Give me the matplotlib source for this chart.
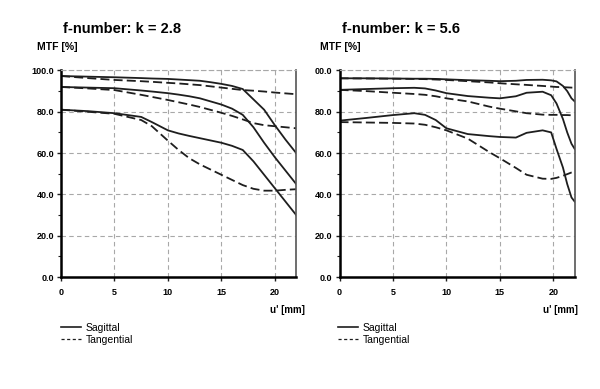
import matplotlib
matplotlib.use('Agg')
import matplotlib.pyplot as plt
from matplotlib.lines import Line2D
from matplotlib.ticker import MultipleLocator

plt.rcParams['font.family'] = ['Liberation Sans', 'DejaVu Sans']

# f-number k = 2.8
u_28 = [0, 2.5, 5, 7.5, 8.5, 10, 11, 12, 13, 14, 15, 16, 17, 18, 19, 20, 21, 22]
sag1_28 = [97.3, 97, 96.7, 96.3, 96.1, 95.9, 95.6, 95.3, 95, 94.3, 93.5, 92.5, 91, 86, 81, 73.5, 66.5, 60]
tan1_28 = [97.3, 96.3, 95.4, 94.8, 94.5, 94, 93.7, 93.3, 92.9, 92.3, 91.7, 91.1, 90.5, 90.2, 89.8, 89.3, 88.9, 88.5]
sag2_28 = [92, 91.7, 91.4, 90.3, 89.8, 89, 88.3, 87.5, 86.5, 85, 83.5, 81.5, 78.5, 72.5, 65, 58, 51.5, 45]
tan2_28 = [92, 91.3, 90.5, 88.2, 87.2, 85.7, 84.6, 83.5, 82.3, 80.9, 79.5, 78, 76.3, 74.5, 73.5, 73, 72.5, 72]
sag3_28 = [81, 80.3, 79.3, 77.5, 75, 71, 69.5, 68.3, 67.2, 66.1, 65, 63.5, 61.5, 56, 49.5, 43, 36.5, 30]
tan3_28 = [81, 80, 79, 76, 73, 66, 61.5, 57.5, 54.5, 52, 49.5, 47, 44.5, 42.7, 41.8, 41.8, 42.2, 42.5]

# f-number k = 5.6
u_56 = [0, 2.5, 5, 7, 8, 9, 10, 12, 14, 15, 16.5, 17.5, 19, 19.8, 20.3, 20.9, 21.3, 21.7, 22]
sag1_56 = [96.2, 96.2, 96.1, 96, 96, 95.9, 95.7, 95.3, 95, 94.8, 95, 95.4, 95.5, 95.2, 94.7, 92.5, 90, 86.5, 85]
tan1_56 = [96.2, 96.1, 96, 95.9, 95.8, 95.6, 95.4, 94.8, 94.2, 93.8, 93.3, 93, 92.5, 92.2, 92, 91.9, 91.8, 91.7, 91.6]
sag2_56 = [90.6, 91, 91.4, 91.6, 91.3, 90.3, 89, 87.6, 86.8, 86.5, 87.5, 89.2, 89.7, 88, 84, 76.5, 70, 64.5, 62]
tan2_56 = [90.6, 90, 89.2, 88.6, 88.2, 87.5, 86.5, 85, 82.5, 81.5, 80.2, 79.3, 78.6, 78.5, 78.5, 78.4, 78.4, 78.3, 78.3]
sag3_56 = [75.7, 77, 78.4, 79.3, 78.5, 76, 72, 69.2, 68.2, 67.8, 67.5, 69.8, 71, 70, 62, 53, 45, 38.5, 36.5]
tan3_56 = [75, 74.8, 74.6, 74.3, 73.7, 72.5, 71, 67, 60.5, 57.5, 52.8, 49.5, 47.6, 47.5, 48, 49, 49.8, 50.6, 51]

y_ticks = [0, 20, 40, 60, 80, 100]
y_labels_28 = ['0.0', '20.0', '40.0', '60.0', '80.0', '100.0']
y_labels_56 = ['0.0', '20.0', '40.0', '60.0', '80.0', '00.0']
x_ticks = [0, 5, 10, 15, 20]
x_labels = ['0', '5', '10', '15', '20']

ink = '#1e1e1e'
grid_col = '#a8a8a8'

fig = plt.figure(figsize=(6, 3.89), dpi=100)
fig.patch.set_facecolor('white')


def panel(left, u, curves, ylabels, title, title_x, mtf_x, unit_x, leg_x):
    ax = fig.add_axes([left, 0.2879, 0.392, 0.531])
    for sag, tan in curves:
        ax.plot(u, sag, color=ink, lw=1.3)
        ax.plot(u, tan, color=ink, lw=1.3, dashes=(5, 2.3))
    ax.set_xlim(0, 22)
    ax.set_ylim(0, 100)
    ax.set_xticks(x_ticks)
    ax.set_xticklabels(x_labels)
    ax.set_yticks(y_ticks)
    ax.set_yticklabels(ylabels)
    ax.yaxis.set_minor_locator(MultipleLocator(10))
    ax.tick_params(axis='both', which='major', direction='out', length=3,
                   width=1, labelsize=6.5, color=ink)
    ax.tick_params(axis='y', which='minor', direction='out', length=2, width=0.8, color=ink)
    ax.tick_params(axis='y', pad=2)
    ax.tick_params(axis='x', pad=5)
    for lab in ax.get_xticklabels() + ax.get_yticklabels():
        lab.set_fontweight('bold')
    ax.grid(True, color=grid_col, lw=0.8, dashes=(4, 3))
    ax.spines['left'].set_linewidth(1.8)
    ax.spines['bottom'].set_linewidth(1.8)
    ax.spines['left'].set_color('black')
    ax.spines['bottom'].set_color('black')
    ax.spines['right'].set_color('#555555')
    ax.spines['right'].set_linewidth(1.2)
    ax.spines['top'].set_color(grid_col)
    ax.spines['top'].set_linewidth(0.8)
    ax.spines['top'].set_linestyle((0, (4, 3)))

    fig.text(title_x, 1 - 33 / 389, title, fontsize=10.5, fontweight='bold', ha='left', va='baseline')
    fig.text(mtf_x, 1 - 50 / 389, 'MTF [%]', fontsize=7.5, fontweight='bold', ha='left', va='baseline')
    fig.text(unit_x, 1 - 310 / 389, "u' [mm]", fontsize=7, fontweight='bold', ha='left', va='center')

    handles = [Line2D([], [], color=ink, lw=1.2),
               Line2D([], [], color=ink, lw=0.9, dashes=(2.5, 2))]
    fig.legend(handles, ['Sagittal', 'Tangential'], loc='upper left',
               bbox_to_anchor=(leg_x, 1 - 323 / 389), frameon=False,
               fontsize=7.5, handlelength=1.9, handletextpad=0.5,
               labelspacing=0.2, borderpad=0, borderaxespad=0)
    return ax


curves_28 = [(sag1_28, tan1_28), (sag2_28, tan2_28), (sag3_28, tan3_28)]
curves_56 = [(sag1_56, tan1_56), (sag2_56, tan2_56), (sag3_56, tan3_56)]

panel(61 / 600, u_28, curves_28, y_labels_28, 'f-number: k = 2.8', 63 / 600, 37 / 600, 270 / 600, 61 / 600)
panel(339.5 / 600, u_56, curves_56, y_labels_56, 'f-number: k = 5.6', 342 / 600, 320 / 600, 543 / 600, 338 / 600)

fig.savefig('out.png', dpi=100, facecolor='white')
